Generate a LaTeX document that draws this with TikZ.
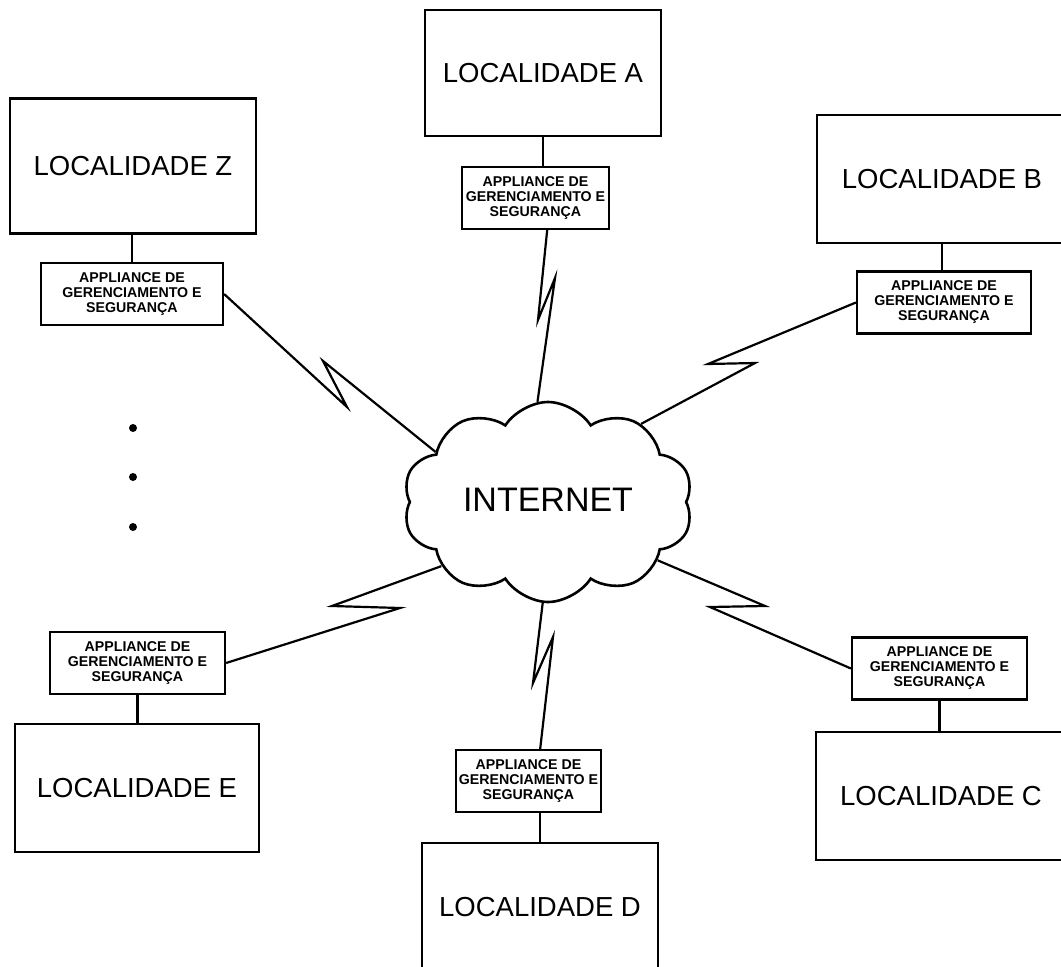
\documentclass[tikz,border=0pt]{standalone}
\usepackage{fontspec}
\setmainfont{Liberation Sans}
\usetikzlibrary{shapes.symbols}

\tikzset{
	locbox/.style={draw, line width=2.2pt, minimum height=128pt, inner sep=0pt,
		font=\fontsize{27.5}{30}\selectfont},
	appbox/.style={draw, line width=2.2pt, minimum height=62pt, inner sep=1pt, align=center,
		font=\bfseries\fontsize{14.2}{15}\selectfont},
	netcloud/.style={cloud, draw, line width=2.6pt, cloud puffs=10, cloud puff arc=115,
		cloud ignores aspect, minimum width=290pt, minimum height=200pt,
		font=\fontsize{34}{40}\selectfont},
	link/.style={line width=2.2pt, line join=miter},
}

\begin{document}
\begin{tikzpicture}[x=1pt, y=-1pt]
	%page frame
	\useasboundingbox (0,0) rectangle (1061,967);
	\clip (0,0) rectangle (1061,967);
	%locations
	\node[locbox, minimum width=236, minimum height=126] (locA) at (543,73) {LOCALIDADE A};
	\node[locbox, minimum width=246, minimum height=135] (locZ) at (133,166) {LOCALIDADE Z};
	\node[locbox, minimum width=250] (locB) at (942,179) {LOCALIDADE B};
	\node[locbox, minimum width=244] (locE) at (137,788) {LOCALIDADE E};
	\node[locbox, minimum width=250] (locC) at (941,796) {LOCALIDADE C};
	\node[locbox, minimum width=236] (locD) at (540,907) {LOCALIDADE D};
	%appliances
	\node[appbox, minimum width=147] (apA) at (535.5,198) {APPLIANCE DE\\GERENCIAMENTO E\\SEGURANÇA};
	\node[appbox, minimum width=182] (apZ) at (132,294) {APPLIANCE DE\\GERENCIAMENTO E\\SEGURANÇA};
	\node[appbox, minimum width=174] (apB) at (944,302.5) {APPLIANCE DE\\GERENCIAMENTO E\\SEGURANÇA};
	\node[appbox, minimum width=175] (apE) at (137.5,663) {APPLIANCE DE\\GERENCIAMENTO E\\SEGURANÇA};
	\node[appbox, minimum width=175] (apC) at (939.5,668.5) {APPLIANCE DE\\GERENCIAMENTO E\\SEGURANÇA};
	\node[appbox, minimum width=145] (apD) at (528.5,781) {APPLIANCE DE\\GERENCIAMENTO E\\SEGURANÇA};
	%internet
	\node[netcloud] (net) at (548,502) {\raisebox{5pt}{INTERNET}};
	%location to appliance
	\draw[link] (locA.south) -- (locA.south |- apA.north);
	\draw[link] (apZ.north) -- (apZ.north |- locZ.south);
	\draw[link] (locB.south) -- (locB.south |- apB.north);
	\draw[link] (apE.south) -- (apE.south |- locE.north);
	\draw[link] (apC.south) -- (apC.south |- locC.north);
	\draw[link] (locD.north) -- (locD.north |- apD.south);
	%links to internet
	\draw[link] (apA.-70) -- (538,320) -- (555,278) -- (net.96);
	\draw[link] (apZ.east) -- (347,407) -- (323,361) -- (net.156);
	\draw[link] (apB.west) -- (708,364) -- (755,363) -- (net.40);
	\draw[link] (net.211) -- (332,606) -- (400,608) -- (apE.east);
	\draw[link] (net.-28) -- (765,606) -- (710,607) -- (apC.west);
	\draw[link] (net.-93) -- (533,683) -- (553,637) -- (apD.70);
	%more locations
	\foreach \y in {428,477,527}
		\fill (133,\y) circle (4pt);
\end{tikzpicture}
\end{document}
